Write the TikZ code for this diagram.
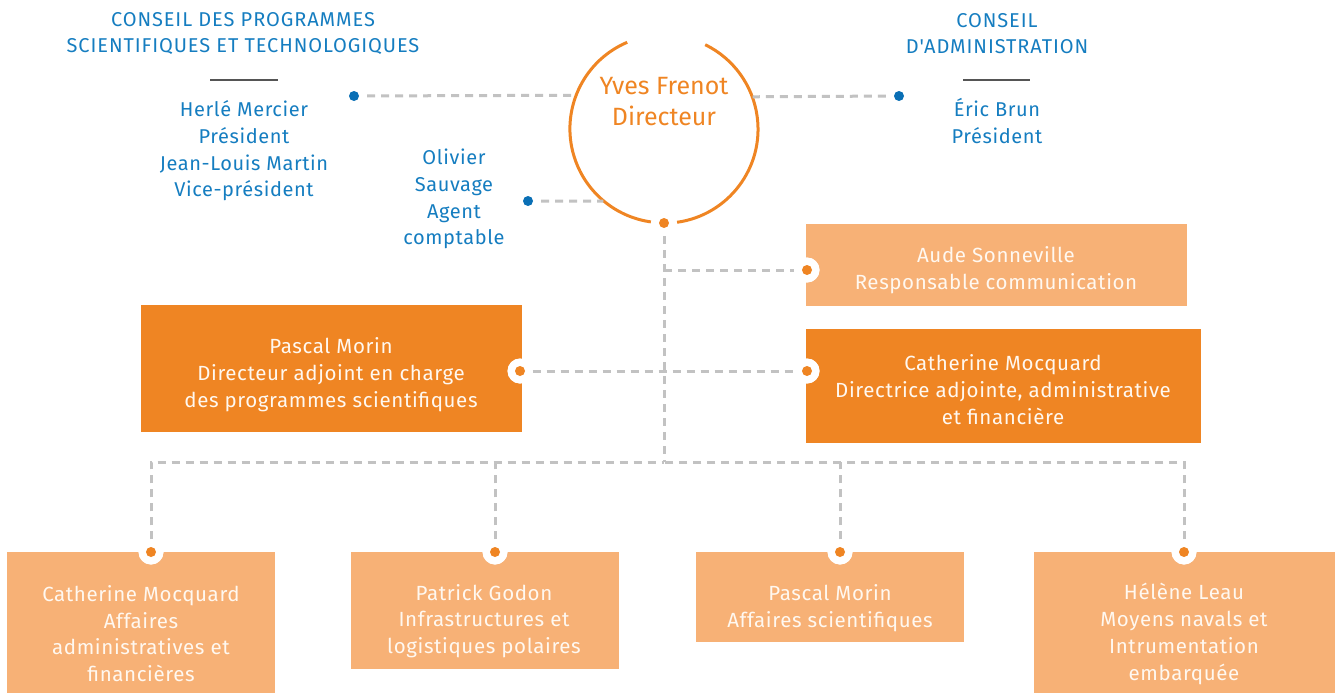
\documentclass[tikz,border=0pt]{standalone}
\usepackage{fontspec}
\setmainfont{Fira Sans}
\newfontfamily\spacedA{Fira Sans}[LetterSpace=3]
\newfontfamily\spacedB{Fira Sans}[LetterSpace=4.5]
\definecolor{lor}{HTML}{F7B176}
\definecolor{dor}{HTML}{EF8523}
\definecolor{blu}{HTML}{157DC0}
\definecolor{dotblu}{HTML}{0A6FB5}
\definecolor{dgray}{HTML}{C2C2C2}
\definecolor{barc}{HTML}{555555}
\definecolor{wtxt}{HTML}{FFF8F0}
\begin{document}
\begin{tikzpicture}[x=1pt,y=-1pt,
  lbox/.style={rectangle, fill=lor, draw=none, inner sep=0pt, anchor=north west},
  dbox/.style={rectangle, fill=dor, draw=none, inner sep=0pt, anchor=north west},
  btxt/.style={align=center, text=wtxt, font=\spacedA\fontsize{20.5}{26.7}\selectfont, inner sep=0pt},
  btitle/.style={align=center, text=blu, font=\spacedB\fontsize{20}{26}\selectfont, inner sep=0pt},
  bname/.style={align=center, text=blu, font=\spacedA\fontsize{20}{26.7}\selectfont, inner sep=0pt},
  ring/.style={circle, fill=white, minimum size=25pt, inner sep=0pt},
  odot/.style={circle, fill=dor, minimum size=10pt, inner sep=0pt},
  bdot/.style={circle, fill=dotblu, minimum size=10pt, inner sep=0pt},
  conn/.style={draw=dgray, line width=3pt, dash pattern=on 8pt off 6pt},
  bar/.style={draw=barc, line width=2.5pt},
  arcs/.style={draw=dor, line width=3pt}]
\useasboundingbox (0,0) rectangle (1338,693);

% boxes
\node[lbox, minimum width=381pt, minimum height=82pt] (aude) at (806,224) {};
\node[dbox, minimum width=381pt, minimum height=127pt] (pm) at (141,305) {};
\node[dbox, minimum width=395pt, minimum height=114pt] (cm) at (806,329) {};
\node[lbox, minimum width=268pt, minimum height=141pt] (b1) at (7,552) {};
\node[lbox, minimum width=268pt, minimum height=117pt] (b2) at (351,552) {};
\node[lbox, minimum width=268pt, minimum height=90pt] (b3) at (696,552) {};
\node[lbox, minimum width=301pt, minimum height=141pt] (b4) at (1034,552) {};

% director
\node[circle, minimum size=188pt, inner sep=0pt] (dir) at (664,129) {};
\draw[arcs] (dir.113) arc[start angle=113, end angle=262, radius=94pt];
\draw[arcs] (dir.278) arc[start angle=278, end angle=424, radius=94pt];
\node[align=center, text=dor, font=\fontsize{25}{31}\selectfont, inner sep=0pt] (dirtxt) at (664,102) {Yves Frenot\\Directeur};

% dots
\node[bdot] (cspdot) at (354,96) {};
\node[bdot] (cadot) at (899,96) {};
\node[bdot] (acdot) at (528,201) {};
\node[odot] (dirdot) at (664,223) {};
\coordinate (bus) at (664,462);

% connectors
\draw[conn, shorten <=8pt] (cspdot) -- (dir.159.5);
\draw[conn, shorten <=8pt] (cadot) -- (dir.20.5);
\draw[conn, shorten <=8pt] (acdot) -- (dir.230);
\draw[conn, shorten <=8pt] (dirdot) -- (bus);

\node[ring] (audering) at (807,270) {};
\node[ring] (pmring) at (520,371) {};
\node[ring] (cmring) at (807,371) {};
\node[ring] (r1) at (151,552) {};
\node[ring] (r2) at (495,552) {};
\node[ring] (r3) at (840,552) {};
\node[ring] (r4) at (1184,552) {};

\draw[conn] (dirdot |- audering) -- (audering);
\draw[conn] (pmring) -- (cmring);
\draw[conn] (r1) |- (bus);
\draw[conn] (r4) |- (bus);
\draw[conn] (r2) -- (r2 |- bus);
\draw[conn] (r3) -- (r3 |- bus);

\foreach \r in {audering,pmring,cmring,r1,r2,r3,r4}{
  \node[ring] at (\r) {};
  \node[odot] at (\r) {};
}

% blue texts
\node[btitle] (csp) at (243,34) {CONSEIL DES PROGRAMMES\\SCIENTIFIQUES ET TECHNOLOGIQUES};
\coordinate (cspbarl) at (210,80);
\coordinate (cspbarr) at (278,80);
\draw[bar] (cspbarl) -- (cspbarr);
\node[bname] (cspn) at (244,151) {Herlé Mercier\\Président\\Jean-Louis Martin\\Vice-président};

\node[btitle] (ca) at (997,34) {CONSEIL\\D'ADMINISTRATION};
\coordinate (cabarl) at (963,80);
\coordinate (cabarr) at (1030,80);
\draw[bar] (cabarl) -- (cabarr);
\node[bname] (can) at (997,121) {Éric Brun\\Président};

\node[bname] (ac) at (454,199) {Olivier\\Sauvage\\Agent\\comptable};

% box texts
\node[btxt] (audet) at (996,270.5) {Aude Sonneville\\Responsable communication};
\node[btxt] (pmt) at (331,374.5) {Pascal Morin\\Directeur adjoint en charge\\des programmes scientifiques};
\node[btxt] (cmt) at (1003,389.5) {Catherine Mocquard\\Directrice adjointe, administrative\\et financière};
\node[btxt] (b1t) at (141,633.5) {Catherine Mocquard\\Affaires\\administratives et\\financières};
\node[btxt] (b2t) at (484,621) {Patrick Godon\\Infrastructures et\\logistiques polaires};
\node[btxt] (b3t) at (830,608.5) {Pascal Morin\\Affaires scientifiques};
\node[btxt] (b4t) at (1184,634) {Hélène Leau\\Moyens navals et\\Intrumentation\\embarquée};
\end{tikzpicture}
\end{document}
